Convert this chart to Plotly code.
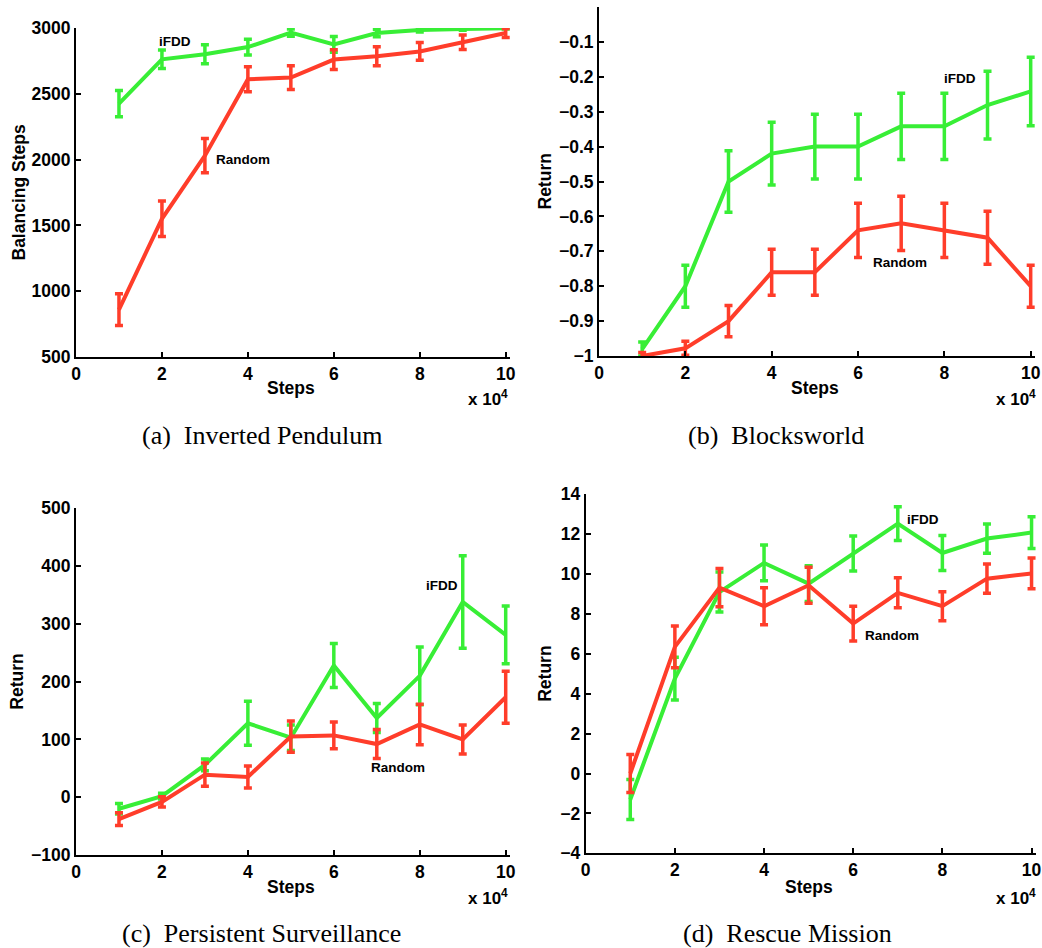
import plotly.graph_objects as go

steps = [1, 2, 3, 4, 5, 6, 7, 8, 9, 10]
x_ticks = [0, 2, 4, 6, 8, 10]

# (a) Inverted Pendulum
pend_ifdd = [2425, 2762, 2800, 2855, 2965, 2875, 2962, 2985, 2993, 2998]
pend_ifdd_err = [100, 70, 72, 60, 27, 60, 28, 16, 10, 6]
pend_rand = [860, 1550, 2030, 2610, 2623, 2760, 2785, 2822, 2892, 2962]
pend_rand_err = [120, 135, 130, 95, 90, 75, 72, 67, 55, 35]

# (b) Blocksworld
blocks_ifdd = [-0.98, -0.80, -0.50, -0.42, -0.40, -0.40, -0.342, -0.342, -0.281, -0.242]
blocks_ifdd_err = [0.02, 0.06, 0.088, 0.09, 0.093, 0.093, 0.095, 0.095, 0.097, 0.098]
blocks_rand = [-1.0, -0.978, -0.90, -0.76, -0.76, -0.64, -0.62, -0.64, -0.661, -0.80]
blocks_rand_err = [0.01, 0.02, 0.045, 0.066, 0.066, 0.078, 0.078, 0.078, 0.076, 0.06]
blocks_ticks = [-1, -0.9, -0.8, -0.7, -0.6, -0.5, -0.4, -0.3, -0.2, -0.1]

# (c) Persistent Surveillance
surv_ifdd = [-20, 2, 56, 128, 103, 228, 137, 210, 338, 281]
surv_ifdd_err = [9, 5, 10, 38, 22, 38, 25, 50, 80, 50]
surv_rand = [-38, -8, 39, 35, 105, 107, 92, 126, 100, 173]
surv_rand_err = [11, 9, 20, 19, 27, 23, 25, 35, 25, 45]

# (d) Rescue Mission
rescue_ifdd = [-1.3, 4.76, 9.1, 10.56, 9.52, 11.03, 12.53, 11.06, 11.78, 12.08]
rescue_ifdd_err = [1.0, 1.07, 1.0, 0.9, 0.9, 0.88, 0.85, 0.88, 0.73, 0.8]
rescue_rand = [0.0, 6.35, 9.32, 8.39, 9.44, 7.52, 9.06, 8.39, 9.77, 10.03]
rescue_rand_err = [0.95, 1.05, 0.96, 0.93, 0.9, 0.87, 0.75, 0.73, 0.73, 0.77]

GREEN = "#38ee36"
RED = "#ff3d2a"
W, H = 1042, 948
SANS = "Liberation Sans, Arial, sans-serif"
SERIF = "Liberation Serif, Times New Roman, serif"

panels = [
    dict(name="a", ifdd=pend_ifdd, ie=pend_ifdd_err, rand=pend_rand, re=pend_rand_err,
         xpx=(76, 510), ypx=(357, 28), yr=[500, 3000], dtick=500,
         ylabel="Balancing Steps", ylab_x=18, steps_y=388, x4_y=398, xright=510,
         caption="(a)\u00a0 Inverted Pendulum", cap_x=262, cap_y=436,
         ifdd_pos=(2.31, 2899), rand_pos=(3.89, 2002)),
    dict(name="b", ifdd=blocks_ifdd, ie=blocks_ifdd_err, rand=blocks_rand, re=blocks_rand_err,
         xpx=(599, 1035), ypx=(356, 7), yr=[-1, 0], dtick=0.1,
         ylabel="Return", ylab_x=544, steps_y=388, x4_y=398, xright=1038,
         caption="(b)\u00a0 Blocksworld", cap_x=776, cap_y=436,
         ifdd_pos=(8.36, -0.206), rand_pos=(6.97, -0.731)),
    dict(name="c", ifdd=surv_ifdd, ie=surv_ifdd_err, rand=surv_rand, re=surv_rand_err,
         xpx=(76, 510), ypx=(855, 508.3), yr=[-100, 500], dtick=100,
         ylabel="Return", ylab_x=17, steps_y=887, x4_y=897, xright=510,
         caption="(c)\u00a0 Persistent Surveillance", cap_x=261, cap_y=933,
         ifdd_pos=(8.51, 367), rand_pos=(7.5, 52)),
    dict(name="d", ifdd=rescue_ifdd, ie=rescue_ifdd_err, rand=rescue_rand, re=rescue_rand_err,
         xpx=(585.7, 1036), ypx=(853.3, 494.3), yr=[-4, 14], dtick=2,
         ylabel="Return", ylab_x=545, steps_y=887, x4_y=897, xright=1038,
         caption="(d)\u00a0 Rescue Mission", cap_x=787, cap_y=933,
         ifdd_pos=(7.56, 12.76), rand_pos=(6.87, 6.9)),
]

fig = go.Figure()
annotations = []
layout = {}
for i, p in enumerate(panels):
    k = "" if i == 0 else str(i + 1)
    xa, ya = "x" + k, "y" + k
    for vals, errs, col in [(p["ifdd"], p["ie"], GREEN), (p["rand"], p["re"], RED)]:
        fig.add_trace(go.Scatter(
            x=steps, y=vals, mode="lines", xaxis=xa, yaxis=ya, showlegend=False,
            line=dict(color=col, width=4),
            error_y=dict(type="data", array=errs, visible=True, color=col,
                         thickness=3.5, width=4),
        ))
    x0, x1 = p["xpx"]
    yb, yt = p["ypx"]
    layout["xaxis" + k] = dict(
        domain=[x0 / W, x1 / W], range=[0, 10.1], anchor=ya, automargin=False,
        tickvals=x_ticks, ticks="inside", ticklen=5, tickwidth=1.5, tickcolor="black",
        showline=True, linecolor="black", linewidth=2, showgrid=False, zeroline=False,
        tickfont=dict(family=SANS, size=17.5, color="black", weight="bold"),
    )
    layout["yaxis" + k] = dict(
        domain=[1 - yb / H, 1 - yt / H], range=p["yr"], anchor=xa, dtick=p["dtick"],
        automargin=False,
        ticks="inside", ticklen=5, tickwidth=1.5, tickcolor="black",
        showline=True, linecolor="black", linewidth=2, showgrid=False, zeroline=False,
        tickfont=dict(family=SANS, size=17.5, color="black", weight="bold"),
    )
    if p["name"] == "b":
        layout["yaxis" + k]["tickvals"] = blocks_ticks
    ymid = 1 - ((yb + yt) / 2) / H
    annotations.append(dict(xref="paper", yref="paper", x=p["ylab_x"] / W, y=ymid,
                            text="<b>%s</b>" % p["ylabel"], textangle=-90, showarrow=False,
                            font=dict(family=SANS, size=17.5, color="black"),
                            xanchor="center", yanchor="middle"))
    annotations.append(dict(xref="paper", yref="paper", x=((x0 + (x1 - x0) * 10 / 10.1 + x0) / 2) / W,
                            y=1 - p["steps_y"] / H, text="<b>Steps</b>", showarrow=False,
                            font=dict(family=SANS, size=17.5, color="black"),
                            xanchor="center", yanchor="middle"))
    annotations.append(dict(xref="paper", yref="paper", x=p["xright"] / W,
                            y=1 - p["x4_y"] / H, text="<b>x 10<sup>4</sup></b>", showarrow=False,
                            font=dict(family=SANS, size=17, color="black"),
                            xanchor="right", yanchor="middle"))
    annotations.append(dict(xref="paper", yref="paper", x=p["cap_x"] / W,
                            y=1 - p["cap_y"] / H, text=p["caption"], showarrow=False,
                            font=dict(family=SERIF, size=26, color="black"),
                            xanchor="center", yanchor="middle"))
    for label, pos in [("iFDD", p["ifdd_pos"]), ("Random", p["rand_pos"])]:
        annotations.append(dict(xref=xa, yref=ya, x=pos[0], y=pos[1],
                                text="<b>%s</b>" % label, showarrow=False,
                                font=dict(family=SANS, size=13.5, color="black"),
                                xanchor="center", yanchor="middle"))

fig.update_layout(
    width=W, height=H, margin=dict(l=0, r=0, t=0, b=0, autoexpand=False),
    paper_bgcolor="white", plot_bgcolor="white",
    annotations=annotations, **layout,
)
fig.write_html(
    "out.html",
    config={"displayModeBar": False},
    post_script="document.body.style.margin='0';document.body.style.overflow='hidden';",
)
